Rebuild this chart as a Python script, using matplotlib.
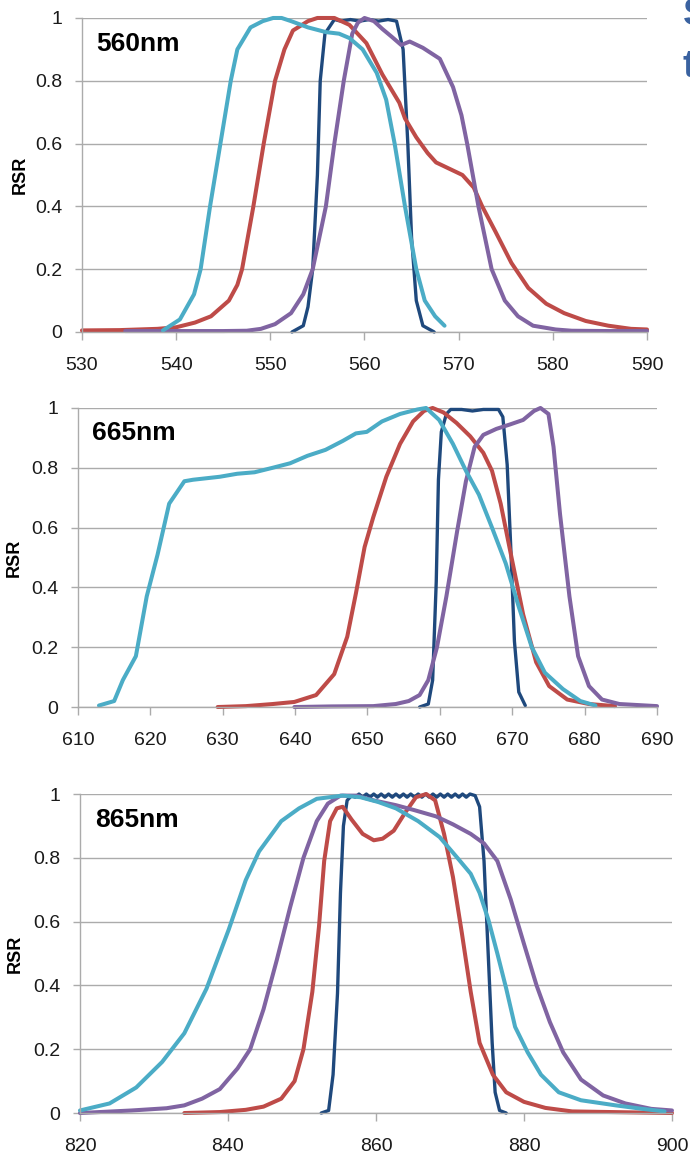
import matplotlib.pyplot as plt
from matplotlib.ticker import FixedLocator, FixedFormatter

# --- 560nm panel ---
b560_cyan_x = [538.6, 540.4, 541.9, 542.6, 543.6, 544.7, 545.8, 546.5, 547.9, 549.2, 550.3, 551.2, 552.2, 554.0,
               555.9, 557.3, 558.4, 559.8, 561.3, 562.3, 563.2, 564.3, 565.5, 566.4, 567.5, 568.5]
b560_cyan_y = [0.005, 0.04, 0.12, 0.2, 0.4, 0.6, 0.8, 0.9, 0.97, 0.99, 1.0, 1.0, 0.99, 0.97,
               0.955, 0.95, 0.936, 0.9, 0.825, 0.74, 0.6, 0.4, 0.2, 0.1, 0.05, 0.02]
b560_red_x = [530, 534, 538, 540, 542, 543.7, 545.6, 546.5, 547.0, 548.2, 549.3, 550.5, 551.5, 552.4, 554.0,
              555.0, 556.8, 558.4, 560.2, 561.9, 563.7, 564.3, 565.5, 566.7, 567.6, 569.0, 570.4,
              571.6, 572.5, 573.9, 575.6, 577.4, 579.3, 581.2, 583.5, 585.9, 588.3, 590]
b560_red_y = [0.005, 0.006, 0.01, 0.015, 0.03, 0.05, 0.1, 0.15, 0.2, 0.4, 0.6, 0.8, 0.9, 0.96, 0.99,
              1.0, 1.0, 0.978, 0.92, 0.82, 0.73, 0.68, 0.62, 0.57, 0.54, 0.52, 0.5,
              0.46, 0.4, 0.32, 0.22, 0.14, 0.09, 0.06, 0.035, 0.02, 0.01, 0.008]
b560_navy_x = [552.3, 553.5, 554.0, 554.5, 555.0, 555.3, 555.8, 556.8, 557.5, 558.5, 559.5, 560.5, 561.5,
               562.5, 563.4, 564.1, 564.6, 565.0, 565.5, 566.2, 567.4]
b560_navy_y = [0.0, 0.02, 0.08, 0.2, 0.5, 0.8, 0.95, 0.995, 0.99, 0.995, 0.99, 0.995, 0.99,
               0.995, 0.99, 0.9, 0.6, 0.3, 0.1, 0.02, 0.0]
b560_purple_x = [534.6, 540, 545, 547.5, 549, 550.5, 552.2, 553.5, 554.5, 555.2, 555.9, 556.8, 557.8, 558.7,
                 559.3, 560.0, 561.0, 561.9, 562.9, 563.9, 564.8, 566.2, 568.0, 569.4, 570.3,
                 570.9, 572.1, 573.5, 574.9, 576.3, 577.9, 580.3, 582, 586, 590]
b560_purple_y = [0.003, 0.003, 0.003, 0.004, 0.01, 0.025, 0.06, 0.12, 0.2, 0.3, 0.4, 0.6, 0.8, 0.95,
                 0.985, 1.0, 0.99, 0.965, 0.94, 0.914, 0.925, 0.905, 0.87, 0.78, 0.69,
                 0.6, 0.4, 0.2, 0.1, 0.05, 0.02, 0.008, 0.004, 0.003, 0.003]

# --- 665nm panel ---
b665_cyan_x = [612.9, 615.0, 616.2, 618.0, 619.5, 621.0, 622.6, 624.7, 625.9, 629.6, 632.0, 634.4, 636.9,
               639.3, 641.7, 644.2, 646.6, 648.4, 649.9, 652.0, 654.5, 656.9, 658.1, 659.9, 661.8,
               663.6, 665.4, 667.2, 669.1, 670.9, 672.7, 674.5, 677.0, 679.4, 681.5]
b665_cyan_y = [0.005, 0.02, 0.09, 0.17, 0.37, 0.51, 0.68, 0.755, 0.76, 0.77, 0.78, 0.785, 0.8,
               0.815, 0.84, 0.86, 0.89, 0.915, 0.92, 0.955, 0.98, 0.995, 1.0, 0.96, 0.88,
               0.79, 0.71, 0.6, 0.48, 0.335, 0.2, 0.115, 0.06, 0.02, 0.005]
b665_red_x = [629.3, 633.2, 636.9, 639.9, 642.9, 645.4, 647.2, 648.4, 649.6, 650.8, 652.6, 654.5, 656.3,
              657.8, 659.0, 660.5, 662.3, 664.2, 666.0, 667.2, 668.4, 669.9, 671.5, 673.3, 675.1,
              677.6, 680.6, 684.2]
b665_red_y = [0.0, 0.003, 0.01, 0.017, 0.04, 0.11, 0.235, 0.38, 0.535, 0.635, 0.77, 0.88, 0.955,
              0.99, 1.0, 0.985, 0.95, 0.905, 0.85, 0.79, 0.68, 0.5, 0.31, 0.15, 0.07,
              0.025, 0.01, 0.003]
b665_navy_x = [657.2, 658.4, 659.0, 659.5, 659.8, 660.2, 660.9, 661.5, 663.0, 664.5, 666.0, 667.5, 668.1,
               668.7, 669.3, 669.8, 670.3, 670.9, 671.8]
b665_navy_y = [0.0, 0.01, 0.09, 0.42, 0.76, 0.92, 0.98, 0.995, 0.995, 0.99, 0.995, 0.995, 0.995,
               0.97, 0.81, 0.53, 0.22, 0.05, 0.005]
b665_purple_x = [639.9, 645, 650.8, 653.9, 655.7, 657.2, 658.4, 659.6, 660.9, 662.4, 663.6, 664.8, 666.0,
                 667.8, 669.7, 671.5, 673.0, 673.9, 675.0, 675.7, 676.6, 677.9, 679.1, 680.6, 682.4,
                 684.8, 690]
b665_purple_y = [0.0, 0.002, 0.003, 0.01, 0.02, 0.04, 0.09, 0.2, 0.37, 0.59, 0.755, 0.87, 0.91,
                 0.93, 0.945, 0.96, 0.99, 1.0, 0.98, 0.87, 0.645, 0.37, 0.17, 0.07, 0.025,
                 0.01, 0.003]

# --- 865nm panel ---
b865_cyan_x = [820, 824, 827.6, 831.1, 834.1, 837.1, 840.1, 842.4, 844.2, 847.2, 849.6, 852.0, 855.5, 857.9,
               860.3, 862.7, 865.7, 868.6, 871.0, 872.8, 874.0, 875.2, 876.4, 877.6, 878.8, 880.5,
               882.3, 884.7, 887.7, 892.4, 896.0, 899.0]
b865_cyan_y = [0.008, 0.03, 0.08, 0.16, 0.25, 0.39, 0.575, 0.73, 0.82, 0.915, 0.955, 0.985, 0.995, 0.99,
               0.975, 0.955, 0.915, 0.865, 0.8, 0.75, 0.69, 0.605, 0.5, 0.39, 0.27, 0.19,
               0.12, 0.065, 0.04, 0.024, 0.013, 0.005]
b865_purple_x = [820, 827, 831.7, 834.1, 836.5, 838.9, 841.3, 843.0, 844.8, 846.6, 848.4, 850.2, 852.0,
                 853.5, 855.2, 857.4, 859.7, 862.7, 865.1, 868.1, 870.4, 872.8, 874.6, 876.4, 878.2,
                 880.0, 881.7, 883.5, 885.3, 887.7, 890.7, 893.7, 897.2, 900]
b865_purple_y = [0.0, 0.008, 0.015, 0.024, 0.045, 0.075, 0.14, 0.2, 0.325, 0.48, 0.645, 0.8, 0.915,
                 0.97, 0.995, 0.995, 0.98, 0.965, 0.95, 0.93, 0.905, 0.875, 0.845, 0.79, 0.67,
                 0.53, 0.4, 0.285, 0.19, 0.105, 0.055, 0.03, 0.013, 0.008]
b865_red_x = [834.1, 838.9, 842.4, 844.8, 847.2, 849.0, 850.2, 851.4, 852.3, 853.0, 853.8, 854.7, 855.5,
              856.7, 858.2, 859.7, 860.9, 862.4, 863.9, 865.4, 866.8, 868.0, 869.2, 870.4, 871.6,
              872.8, 874.0, 875.8, 877.6, 880.0, 882.9, 886.5, 900]
b865_red_y = [0.0, 0.003, 0.01, 0.02, 0.045, 0.1, 0.2, 0.38, 0.585, 0.79, 0.915, 0.955, 0.96,
              0.92, 0.875, 0.855, 0.86, 0.885, 0.94, 0.99, 1.0, 0.98, 0.875, 0.74, 0.565,
              0.38, 0.22, 0.12, 0.065, 0.035, 0.016, 0.005, 0.0]
b865_navy_x = [852.6, 853.6, 854.2, 854.8, 855.2, 855.6, 856.1, 856.7, 857.2, 857.7, 858.2, 858.7, 859.2,
               859.7, 860.2, 860.7, 861.2, 861.7, 862.2, 862.7, 863.2, 863.7, 864.2, 864.7, 865.2,
               865.7, 866.2, 866.7, 867.2, 867.7, 868.2, 868.7, 869.2, 869.7, 870.2, 870.7, 871.2,
               871.7, 872.2, 872.7, 873.4, 874.0, 874.6, 875.2, 875.7, 876.1, 876.7, 877.6]
b865_navy_y = [0.0, 0.008, 0.12, 0.375, 0.69, 0.9, 0.98, 0.995, 0.99, 1.0, 0.99, 1.0, 0.99,
               1.0, 0.99, 1.0, 0.99, 1.0, 0.99, 1.0, 0.99, 1.0, 0.99, 1.0, 0.99,
               1.0, 0.99, 1.0, 0.99, 1.0, 0.99, 1.0, 0.99, 1.0, 0.99, 1.0, 0.99,
               1.0, 0.99, 1.0, 0.995, 0.96, 0.79, 0.48, 0.22, 0.065, 0.008, 0.0]

CYAN = '#4bacc6'
RED = '#be4b48'
NAVY = '#1f497d'
PURPLE = '#8064a2'
GRID = '#ababab'

plt.rcParams['font.family'] = ['Liberation Sans', 'DejaVu Sans']

panels = [
    ('560nm', [0.1188, 0.7138, 0.8189, 0.2707], (530, 590), list(range(530, 591, 10)),
     [(b560_navy_x, b560_navy_y, NAVY), (b560_red_x, b560_red_y, RED),
      (b560_purple_x, b560_purple_y, PURPLE), (b560_cyan_x, b560_cyan_y, CYAN)]),
    ('665nm', [0.1130, 0.3905, 0.8392, 0.2578], (610, 690), list(range(610, 691, 10)),
     [(b665_navy_x, b665_navy_y, NAVY), (b665_red_x, b665_red_y, RED),
      (b665_purple_x, b665_purple_y, PURPLE), (b665_cyan_x, b665_cyan_y, CYAN)]),
    ('865nm', [0.1159, 0.0405, 0.8580, 0.2750], (820, 900), list(range(820, 901, 20)),
     [(b865_navy_x, b865_navy_y, NAVY), (b865_red_x, b865_red_y, RED),
      (b865_purple_x, b865_purple_y, PURPLE), (b865_cyan_x, b865_cyan_y, CYAN)]),
]

yticks = [0, 0.2, 0.4, 0.6, 0.8, 1.0]
ylabels = ['0', '0.2', '0.4', '0.6', '0.8', '1']

fig = plt.figure(figsize=(6.9, 11.6), dpi=100)

for name, pos, xlim, xticks, series in panels:
    ax = fig.add_axes(pos)
    for xs, ys, c in series:
        lw = 2.4 if c == NAVY else 2.9
        ax.plot(xs, ys, color=c, linewidth=lw, solid_joinstyle='round',
                solid_capstyle='round', clip_on=False)
    ax.set_xlim(*xlim)
    ax.set_ylim(0, 1)
    ax.yaxis.set_major_locator(FixedLocator(yticks))
    ax.yaxis.set_major_formatter(FixedFormatter(ylabels))
    ax.set_xticks(xticks)
    ax.grid(axis='y', color=GRID, linewidth=1.0)
    ax.set_axisbelow(True)
    for s in ['top', 'right']:
        ax.spines[s].set_visible(False)
    for s in ['left', 'bottom']:
        ax.spines[s].set_color(GRID)
        ax.spines[s].set_linewidth(1.0)
    ax.tick_params(axis='x', colors=GRID, length=5.8, width=1.0, pad=12,
                   labelcolor='#1a1a1a', labelsize=14)
    ax.tick_params(axis='y', colors=GRID, length=4.8, width=1.0, pad=9.5,
                   labelcolor='#1a1a1a', labelsize=14)
    ax.text(-0.11, 0.5, 'RSR', transform=ax.transAxes, rotation=90, fontsize=13,
            fontweight='bold', ha='center', va='center')
    ax.text(0.025, 0.917, name, transform=ax.transAxes, fontsize=19, fontweight='bold',
            va='center', ha='left')

# cut-off title text at the right edge
fig.text(0.989, 1.003, 'S', color='#3a62a0', fontsize=28, fontweight='bold', va='top', ha='left')
fig.text(0.989, 0.958, 't', color='#3a62a0', fontsize=28, fontweight='bold', va='top', ha='left')

plt.savefig('out.png', dpi=100)
